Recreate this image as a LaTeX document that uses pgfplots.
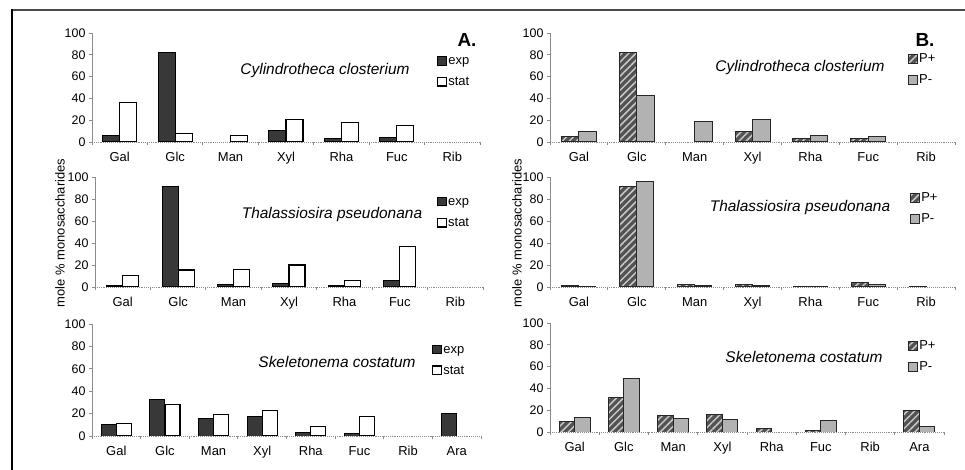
\documentclass[border=0pt]{standalone}
\usepackage{pgfplots}
\pgfplotsset{compat=1.18}
\usepackage{fontspec}
\setmainfont{Liberation Sans}
\usetikzlibrary{patterns.meta}

\pgfplotsset{
 panel/.style={
  scale only axis, ymin=0, ymax=100, ytick={0,20,40,60,80,100},
  axis y line=left, axis x line=bottom, axis line style={-},
  y axis line style={draw=black!45, line width=0.8bp},
  x axis line style={draw=black!45, densely dotted, line width=0.9bp},
  tick align=outside, major tick length=3bp, minor tick length=3bp,
  ytick style={draw=black!45, line width=0.8bp},
  major x tick style={draw=none},
  minor x tick style={draw=black!45, line width=0.8bp},
  ybar=0pt,
  yticklabel style={font=\fontsize{12.5}{14}\selectfont, /pgf/number format/assume math mode=true},
  xticklabel style={font=\fontsize{13}{15}\selectfont, yshift=-4bp},
  legend style={draw=none, fill=none, font=\fontsize{13}{15}\selectfont, anchor=west,
    inner sep=0pt, row sep=7bp, nodes={inner sep=1.5bp, text height=8.5bp, text depth=2.5bp}},
  legend cell align=left,
 },
 p7/.style={xmin=-0.5,xmax=6.5, xtick={0,...,6}, minor xtick={-0.5,0.5,...,6.5}, xticklabels={Gal,Glc,Man,Xyl,Rha,Fuc,Rib}},
 p8/.style={xmin=-0.5,xmax=7.5, xtick={0,...,7}, minor xtick={-0.5,0.5,...,7.5}, xticklabels={Gal,Glc,Man,Xyl,Rha,Fuc,Rib,Ara}},
 sq/.style={legend image code/.code={\draw[##1] (0bp,-3.5bp) rectangle (8.5bp,5bp);}},
 sexp/.style={fill=black!78, draw=black, line width=1bp, sq},
 sstat/.style={fill=white, draw=black, line width=1.2bp, sq},
 spp/.style={fill=black!68, draw=black!85, line width=1bp, postaction={pattern={Lines[angle=45,distance=5bp,line width=1.5bp]}, pattern color=black!22}, sq},
 spm/.style={fill=black!30, draw=black!85, line width=1bp, sq},
}

\begin{document}
\begin{tikzpicture}[x=1bp,y=1bp]
\useasboundingbox (0bp,0bp) rectangle (965bp,470bp);
\draw[black!70, line width=2bp] (12bp,460bp) -- (965bp,460bp);
\draw[black, line width=1.5bp] (12bp,461bp) -- (12bp,0bp);

% ---------- A top
\begin{axis}[panel, p7, at={(92bp,328bp)}, anchor=south west, width=388bp, height=109bp,
  bar width=17bp, legend style={at={(0.889,0.642)}}]
\addplot[sexp] coordinates {(0,6) (1,82) (3,11) (4,3.5) (5,4)};
\addplot[sstat] coordinates {(0,36) (1,8) (2,6) (3,21) (4,18) (5,15)};
\legend{exp,stat}
\end{axis}
% ---------- A middle
\begin{axis}[panel, p7, at={(95bp,183bp)}, anchor=south west, width=388bp, height=110bp,
  bar width=16bp, legend style={at={(0.881,0.673)}}]
\addplot[sexp] coordinates {(0,1.5) (1,91) (2,2.5) (3,3.3) (4,1.8) (5,5.5)};
\addplot[sstat] coordinates {(0,10.5) (1,15.5) (2,16) (3,20) (4,6) (5,36.5)};
\legend{exp,stat}
\end{axis}
% ---------- A bottom
\begin{axis}[panel, p8, at={(92bp,34bp)}, anchor=south west, width=389bp, height=112bp,
  bar width=15bp, legend style={at={(0.874,0.674)}}]
\addplot[sexp] coordinates {(0,10) (1,33) (2,16) (3,17) (4,3.3) (5,2.5) (7,20.5)};
\addplot[sstat] coordinates {(0,11) (1,28) (2,19) (3,23) (4,8.4) (5,17.4)};
\legend{exp,stat}
\end{axis}
% ---------- B top
\begin{axis}[panel, p7, at={(550bp,328bp)}, anchor=south west, width=405bp, height=109bp,
  bar width=17.5bp, legend style={at={(0.884,0.656)}}]
\addplot[spp] coordinates {(0,5.5) (1,82.5) (3,10) (4,3) (5,3.4)};
\addplot[spm] coordinates {(0,10) (1,42.5) (2,19) (3,21) (4,6) (5,5.5)};
\legend{P+,P-}
\end{axis}
% ---------- B middle
\begin{axis}[panel, p7, at={(550bp,183bp)}, anchor=south west, width=405bp, height=110bp,
  bar width=17bp, legend style={at={(0.889,0.705)}}]
\addplot[spp] coordinates {(0,1) (1,91) (2,2) (3,2.5) (4,0.7) (5,4.3) (6,0.8)};
\addplot[spm] coordinates {(0,0.8) (1,95.5) (2,1) (3,1.2) (4,0.7) (5,2)};
\legend{P+,P-}
\end{axis}
% ---------- B bottom
\begin{axis}[panel, p8, at={(550bp,38bp)}, anchor=south west, width=394bp, height=109bp,
  bar width=15.5bp, legend style={at={(0.909,0.688)}}]
\addplot[spp] coordinates {(0,9.5) (1,32) (2,15.3) (3,16) (4,2.8) (5,1.5) (7,19.6)};
\addplot[spm] coordinates {(0,13) (1,49) (2,12.5) (3,11.6) (5,10.7) (7,5)};
\legend{P+,P-}
\end{axis}

% titles
\begin{scope}[every node/.style={font=\fontsize{15.5}{18}\selectfont\itshape}]
\node at (325bp,399bp) {Cylindrotheca closterium};
\node at (332bp,255bp) {Thalassiosira pseudonana};
\node at (337bp,108bp) {Skeletonema costatum};
\node at (800bp,402bp) {Cylindrotheca closterium};
\node at (800bp,262bp) {Thalassiosira pseudonana};
\node at (804bp,113bp) {Skeletonema costatum};
\end{scope}
\node[font=\fontsize{19}{22}\selectfont\bfseries] at (467bp,430bp) {A.};
\node[font=\fontsize{19}{22}\selectfont\bfseries] at (925bp,430bp) {B.};
\node[rotate=90, font=\fontsize{13}{15}\selectfont] at (60bp,237bp) {mole \% monosaccharides};
\node[rotate=90, font=\fontsize{13}{15}\selectfont] at (517bp,237bp) {mole \% monosaccharides};
\end{tikzpicture}
\end{document}
